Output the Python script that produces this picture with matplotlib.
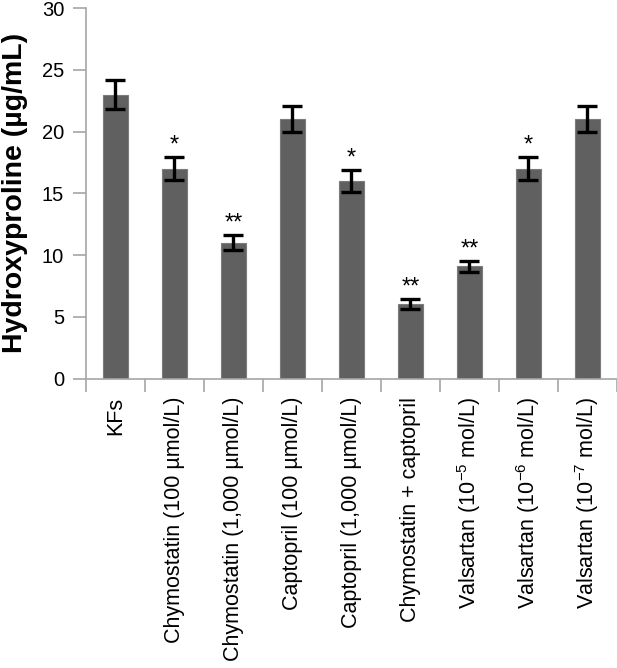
import numpy as np
import matplotlib
matplotlib.use("Agg")
import matplotlib.pyplot as plt

plt.rcParams["font.family"] = ["Liberation Sans", "DejaVu Sans"]

# data
groups = [
    "KFs",
    "Chymostatin (100 µmol/L)",
    "Chymostatin (1,000 µmol/L)",
    "Captopril (100 µmol/L)",
    "Captopril (1,000 µmol/L)",
    "Chymostatin + captopril",
    "Valsartan (10$^{\\mathregular{-5}}$ mol/L)",
    "Valsartan (10$^{\\mathregular{-6}}$ mol/L)",
    "Valsartan (10$^{\\mathregular{-7}}$ mol/L)",
]
hyp = [23.0, 17.0, 11.0, 21.0, 16.0, 6.05, 9.1, 17.0, 21.0]
err = [1.2, 0.95, 0.6, 1.05, 0.9, 0.38, 0.45, 0.95, 1.05]
stars = ["", "*", "**", "", "*", "**", "**", "*", ""]

AXIS_GRAY = "#a6a6a6"

fig = plt.figure(figsize=(6.17, 6.68), dpi=100)
# axes runs past the right edge, like the cropped original
ax = fig.add_axes([0.139, 0.433, 0.861, 0.555])

x = np.arange(len(hyp))
ax.bar(x, hyp, width=0.42, color="#606060", edgecolor="#7c7c7c",
       linewidth=0.8, zorder=2)
ax.errorbar(x, hyp, yerr=err, fmt="none", ecolor="black", elinewidth=2.4,
            capsize=7, capthick=2.4, zorder=3)

for xi, h, e, s in zip(x, hyp, err, stars):
    if s:
        ax.text(xi, h + e + 0.45, s, ha="center", va="baseline", fontsize=17)

ax.set_ylim(0, 30)
ax.set_xlim(-0.5, 8.395)
ax.set_yticks(range(0, 31, 5))
ax.tick_params(axis="y", labelsize=14.5, length=9.5, width=1.2,
               color=AXIS_GRAY, pad=6)

# category labels, boundary ticks as minor ticks
ax.set_xticks(x)
ax.set_xticklabels(groups, rotation=90, fontsize=15.5)
ax.tick_params(axis="x", length=0, pad=13)
ax.set_xticks(np.arange(-0.5, 8.6, 1.0), minor=True)
ax.tick_params(axis="x", which="minor", length=9.5, width=1.2, color=AXIS_GRAY)

for side in ["top", "right"]:
    ax.spines[side].set_visible(False)
for side in ["left", "bottom"]:
    ax.spines[side].set_color(AXIS_GRAY)
    ax.spines[side].set_linewidth(1.2)

ax.set_ylabel("Hydroxyproline (µg/mL)", fontsize=20.5, fontweight="bold",
              labelpad=10)

plt.savefig("out.png", dpi=100)
plt.close()
